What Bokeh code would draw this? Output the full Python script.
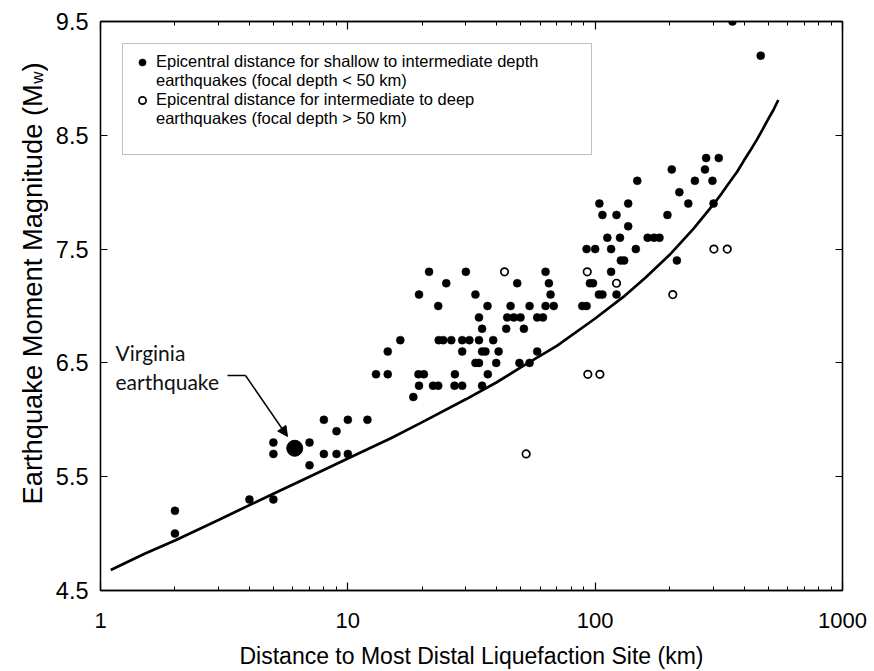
from math import pi
from bokeh.plotting import figure
from bokeh.layouts import row
from bokeh.models import (Range1d, FixedTicker, LogAxis, LinearAxis, Legend, LegendItem,
                          Label, Arrow, NormalHead, BasicTickFormatter)
from bokeh.embed import file_html
from bokeh.resources import INLINE

# ---------------- data ----------------
shallow_km = [2, 2, 4, 5, 5, 5, 7, 7, 8, 8, 9, 9, 10, 10, 12, 13, 14.5, 14.5, 16.3, 18.4,
              19.3, 20.3, 19.4, 19.4, 21.3, 22.1, 23.2, 23.2, 23.3, 24.3, 25, 26.2, 27.1, 27, 29,
              29, 31, 29, 30, 32.8, 32.8, 33.9, 33.9, 33.9, 34.9, 34.9, 36, 34.9, 36.7, 36.8,
              38.7, 39.8, 40.7, 43.7, 44.1, 46.9, 49.9, 45.5, 48.4, 49.4, 51.5, 54.3, 54.3, 58.3,
              61.5, 58.3, 63, 63, 65, 66, 68, 88.7, 92.3, 92.3, 100, 95.2, 98, 103.5, 107, 104,
              107, 112, 116, 116, 122, 122, 126, 127, 131, 136, 136, 146, 148, 163, 173, 182,
              196, 204, 214, 219, 238, 253, 278, 281, 298, 301, 316, 359, 467]
shallow_mw = [5.2, 5.0, 5.3, 5.3, 5.8, 5.7, 5.8, 5.6, 6.0, 5.7, 5.9, 5.7, 6.0, 5.7, 6.0, 6.4,
              6.4, 6.6, 6.7, 6.2, 6.4, 6.4, 6.3, 7.1, 7.3, 6.3, 6.3, 7.0, 6.7, 6.7, 7.2, 6.7, 6.4,
              6.3, 6.3, 6.7, 6.7, 6.6, 7.3, 7.1, 6.5, 6.5, 6.9, 6.7, 6.8, 6.6, 6.6, 6.3, 7.0, 6.4,
              6.7, 6.5, 6.6, 6.8, 6.9, 6.9, 6.9, 7.0, 7.2, 6.5, 6.8, 7.0, 6.5, 6.9, 6.9, 6.6, 7.3,
              7.0, 7.2, 7.1, 7.0, 7.0, 7.0, 7.5, 7.5, 7.2, 7.2, 7.1, 7.1, 7.9, 7.8, 7.6, 7.5, 7.3,
              7.8, 7.1, 7.6, 7.4, 7.4, 7.9, 7.7, 7.5, 8.1, 7.6, 7.6, 7.6, 7.8, 8.2, 7.4, 8.0, 7.9,
              8.1, 8.2, 8.3, 8.1, 7.9, 8.3, 9.5, 9.2]
deep_km = [43, 52.6, 92.9, 93.4, 104.5, 122, 206, 302, 342]
deep_mw = [7.3, 5.7, 7.3, 6.4, 6.4, 7.2, 7.1, 7.5, 7.5]
virginia_km = [6.1]
virginia_mw = [5.75]
bound_km = [1.1, 1.5, 2, 3, 4, 5, 7, 10, 15, 20, 30, 40, 50, 70, 100, 130, 160, 200, 250,
            300, 325, 350, 375, 400, 425, 450, 475, 500, 525, 550]
bound_mw = [4.68, 4.82, 4.94, 5.12, 5.25, 5.35, 5.50, 5.66, 5.84, 5.98, 6.18, 6.33, 6.46,
            6.65, 6.89, 7.08, 7.25, 7.45, 7.68, 7.89, 7.99, 8.09, 8.18, 8.28, 8.37, 8.46,
            8.55, 8.64, 8.72, 8.81]
x_major = [1, 10, 100, 1000]
x_labels = ["1", "10", "100", "1000"]
x_minor = [2, 3, 4, 5, 6, 7, 8, 9, 20, 30, 40, 50, 60, 70, 80, 90,
           200, 300, 400, 500, 600, 700, 800, 900]
y_major = [4.5, 5.5, 6.5, 7.5, 8.5, 9.5]
legend_lines = ["Epicentral distance for shallow to intermediate depth",
                "earthquakes (focal depth < 50 km)",
                "Epicentral distance for intermediate to deep",
                "earthquakes (focal depth > 50 km)"]
y_title_parts = ["Earthquake Moment Magnitude (M", "w", ")"]

FONT = "Liberation Sans"
NARROW = "'Liberation Sans Narrow', 'Liberation Sans', sans-serif"

TOTAL_H = 671
LEFT_W = 48
B_TOP, B_BOTTOM = 21, 80

p = figure(width=870 - LEFT_W, height=TOTAL_H, x_axis_type="log",
           x_range=Range1d(1, 1000), y_range=Range1d(4.5, 9.5),
           output_backend="svg", toolbar_location=None,
           min_border_left=100 - LEFT_W, min_border_right=28, min_border_top=B_TOP,
           min_border_bottom=B_BOTTOM)
p.grid.visible = False
p.outline_line_color = "black"
p.outline_line_width = 1.3
p.background_fill_color = "white"
p.border_fill_color = "white"


def style_axis(ax):
    ax.axis_line_color = "black"
    ax.axis_line_width = 1.3
    ax.major_tick_line_color = "black"
    ax.major_tick_line_width = 1.2
    ax.minor_tick_line_color = "black"
    ax.minor_tick_line_width = 1.0
    ax.major_tick_out = 0
    ax.minor_tick_out = 0


# bottom axis
xb = p.xaxis[0]
xb.ticker = FixedTicker(ticks=x_major, minor_ticks=x_minor)
xb.formatter = BasicTickFormatter()
xb.major_label_overrides = {v: s for v, s in zip(x_major, x_labels)}
style_axis(xb)
xb.major_tick_in = 8
xb.minor_tick_in = 4
xb.major_label_text_font = NARROW
xb.major_label_text_font_size = "22px"
xb.major_label_text_color = "black"
xb.major_label_standoff = 22
xb.axis_label = "Distance to Most Distal Liquefaction Site (km)"
xb.axis_label_text_font = FONT
xb.axis_label_text_font_size = "23px"
xb.axis_label_text_font_style = "normal"
xb.axis_label_text_color = "black"
xb.axis_label_standoff = 12

# left axis
yl = p.yaxis[0]
yl.ticker = FixedTicker(ticks=y_major)
style_axis(yl)
yl.major_tick_in = 7
yl.minor_tick_in = 0
yl.major_label_text_font = FONT
yl.major_label_text_font_size = "23.5px"
yl.major_label_text_color = "black"
yl.major_label_standoff = 12

# top axis (ticks only)
xt = LogAxis(ticker=FixedTicker(ticks=x_major, minor_ticks=x_minor))
style_axis(xt)
xt.major_tick_in = 8
xt.minor_tick_in = 4
xt.major_label_overrides = {v: "" for v in x_major}
xt.major_label_text_font_size = "0px"
xt.major_label_standoff = 0
p.add_layout(xt, "above")

# right axis (ticks only)
yr = LinearAxis(ticker=FixedTicker(ticks=y_major))
style_axis(yr)
yr.major_tick_in = 7
yr.minor_tick_in = 0
yr.major_label_overrides = {v: "" for v in y_major}
yr.major_label_text_font_size = "0px"
yr.major_label_standoff = 0
p.add_layout(yr, "right")

# glyphs
p.line(bound_km, bound_mw, line_width=2.7, line_color="black")
r_shallow = p.scatter(shallow_km, shallow_mw, size=8, fill_color="black",
                      line_color="black", line_width=0.5)
r_deep = p.scatter(deep_km, deep_mw, size=7.5, fill_color="white",
                   line_color="black", line_width=1.7)
p.scatter(virginia_km, virginia_mw, size=16, fill_color="black", line_color="black")
r_blank = p.scatter(x=[], y=[], size=0, fill_alpha=0, line_alpha=0)

legend = Legend(items=[
    LegendItem(label=legend_lines[0], renderers=[r_shallow]),
    LegendItem(label=legend_lines[1], renderers=[r_blank]),
    LegendItem(label=legend_lines[2], renderers=[r_deep]),
    LegendItem(label=legend_lines[3], renderers=[r_blank]),
    LegendItem(label=" ", renderers=[r_blank]),
], location="top_left", margin=22, padding=8, spacing=0,
    label_height=18, glyph_height=18, glyph_width=22, label_standoff=3, label_width=427,
    label_text_font=FONT, label_text_font_size="16.5px", label_text_color="black",
    border_line_color="#7f7f7f", border_line_width=1, background_fill_color="white",
    background_fill_alpha=1)
p.add_layout(legend)

# Virginia earthquake annotation
p.add_layout(Label(x=15, y=238, x_units="screen", y_units="screen", text="Virginia",
                   text_font="Lato", text_font_size="21px", text_color="#111111",
                   text_baseline="alphabetic"))
p.add_layout(Label(x=15, y=209, x_units="screen", y_units="screen", text="earthquake",
                   text_font="Lato", text_font_size="21px", text_color="#111111",
                   text_baseline="alphabetic"))
p.add_layout(Arrow(end=None, x_start=127, y_start=215, x_end=145, y_end=215,
                   start_units="screen", end_units="screen",
                   line_width=1.5, line_color="black"))
p.add_layout(Arrow(end=NormalHead(size=10, fill_color="black", line_color="black"),
                   x_start=145, y_start=215, x_end=187, y_end=154,
                   start_units="screen", end_units="screen",
                   line_width=1.5, line_color="black"))

# ---- narrow left figure holding the rotated y-axis title (with subscript) ----
q = figure(width=LEFT_W, height=TOTAL_H, x_range=Range1d(0, LEFT_W),
           y_range=Range1d(0, TOTAL_H - B_TOP - B_BOTTOM), output_backend="svg",
           toolbar_location=None, x_axis_location=None, y_axis_location=None,
           min_border_left=0, min_border_right=0, min_border_top=B_TOP,
           min_border_bottom=B_BOTTOM)
q.grid.visible = False
q.outline_line_color = None
q.background_fill_color = "white"
q.border_fill_color = "white"

TS = 27.3
SUB = 17.0
base_x = 31.7             # baseline, px from the left of the page
start_y = 86.0            # px above the bottom of the frame
main_w = 15.395 * TS
for txt, dx, dy, fs in [(y_title_parts[0], 0, 0, TS),
                        (y_title_parts[1], 5, main_w + 0.5, SUB),
                        (y_title_parts[2], 0, main_w + 0.5 + 0.722 * SUB, TS)]:
    q.add_layout(Label(x=base_x + dx, y=start_y + dy, x_units="screen", y_units="screen",
                       text=txt, angle=pi / 2, text_align="left",
                       text_baseline="alphabetic", text_font=FONT,
                       text_font_size=f"{fs}px", text_color="black"))

layout = row(q, p, spacing=0)
open("out.html", "w").write(file_html(layout, INLINE))
